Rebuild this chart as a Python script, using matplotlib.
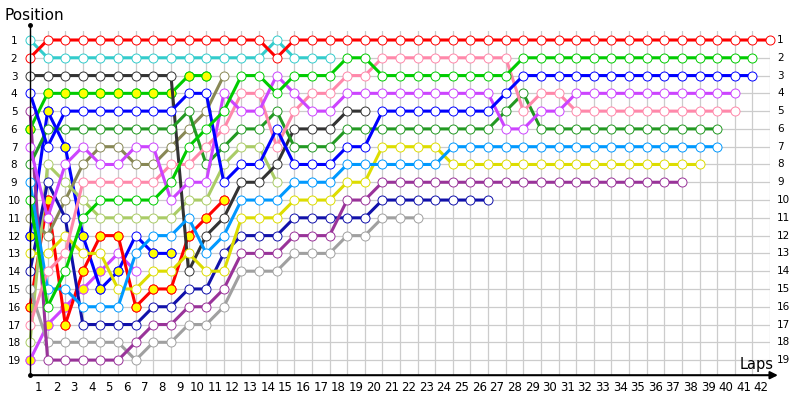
import numpy as np
import matplotlib.pyplot as plt

# positions per lap, index = lap number (0 = grid)
red_lead = [2] + [1]*13 + [2] + [1]*28
cyan = [1] + [2]*13 + [1] + [2, 2, 2]
black = [3]*9 + [14, 12, 11, 9, 9, 8, 6, 6, 6, 5, 5]
blue = [4, 7, 5, 5, 5, 5, 5, 5, 5, 4, 4, 9, 8, 8, 6, 8, 8, 8, 7, 7] + [5]*7 + [4] + [3]*14
dark_purple = [5] + [19]*5 + [18, 17, 17, 16, 16, 15, 13, 13, 13, 12, 12, 12, 10, 10] + [9]*18
green_y = [6] + [4]*8 + [3, 3]
magenta = [7, 11, 8, 7, 8, 8, 7, 7, 10, 9, 9, 4, 5, 5, 3, 4, 5, 5] + [4]*9 + [6, 6, 5, 5] + [4]*10
dark_green = [8] + [6]*8 + [5, 8, 7, 6, 6, 5, 7, 7, 7] + [6]*9 + [5, 4] + [6]*11
light_blue = [9, 15, 15, 16, 16, 16, 13, 12, 12, 11, 13, 12, 10, 10, 10, 9, 9, 9] + [8]*6 + [7]*16
green = [10, 16, 14, 11, 10, 10, 10, 10, 9, 7, 6, 5, 3, 3, 4, 3, 3, 3, 2, 2] + [3]*8 + [2]*14
olive = [11, 12, 10, 8, 7, 7, 8, 8, 7, 6, 5, 3]
blue_y = [12, 5, 7, 12, 15, 14, 12, 13, 13]
yellow = [13, 13, 12, 13, 13, 15, 15, 14, 14, 13, 14, 14, 11, 11, 11, 10, 10, 10, 9, 9] + [7]*4 + [8]*15
navy = [14, 9, 11, 17, 17, 17, 17, 16, 16, 15, 15, 13, 12, 12, 12] + [11]*5 + [10]*7
gray = [15] + [18]*5 + [19, 18, 18, 17, 17, 16, 14, 14, 14, 13, 13, 13, 12, 12] + [11]*3
red_y = [16, 10, 17, 14, 12, 12, 16, 15, 15, 12, 11, 10]
pink = [17, 14, 13, 9, 9, 9, 9, 9, 8, 8, 7, 6, 4, 4, 7, 5, 4, 4, 3, 3] + [2]*8 + [5, 4, 4] + [5]*10
light_green = [18, 8, 9, 10, 11, 11, 11, 11, 11, 10, 10, 8, 7, 7, 9]
magenta_y = [19, 17, 16, 15, 14, 13, 14]

# laps drawn with a yellow filled marker
green_y_fill = list(range(11))
red_y_fill = list(range(12))
blue_y_fill = [0, 1, 2, 3, 4, 5, 7, 8]
magenta_y_fill = [0, 1, 2, 3, 4]

drivers = [
    (magenta_y, '#cc44ff', magenta_y_fill),
    (blue_y, '#0000ff', blue_y_fill),
    (red_y, '#ff0000', red_y_fill),
    (green_y, '#00cc00', green_y_fill),
    (olive, '#888855', []),
    (light_green, '#aacc66', []),
    (cyan, '#33cccc', []),
    (black, '#333333', []),
    (gray, '#a0a0a0', []),
    (navy, '#1111aa', []),
    (dark_purple, '#993399', []),
    (yellow, '#dddd00', []),
    (light_blue, '#0099ff', []),
    (dark_green, '#229922', []),
    (pink, '#ff88aa', []),
    (magenta, '#cc44ff', []),
    (blue, '#0000ff', []),
    (green, '#00cc00', []),
    (red_lead, '#ff0000', []),
]

fig = plt.figure(figsize=(8, 4), dpi=100)
ax = fig.add_axes([30/800, (400-375.2)/400, 740/800, (375.2-31.1)/400])
ax.set_xlim(0, 42)
ax.set_ylim(19.85, 0.5)
for s in ax.spines.values():
    s.set_visible(False)

ax.set_xticks(np.arange(1, 43) - 0.5)
ax.set_xticklabels([str(i) for i in range(1, 43)], fontsize=8.5)
ax.set_xticks(np.arange(0, 43), minor=True)
ax.set_yticks(range(1, 20))
ax.set_yticklabels([str(i) for i in range(1, 20)], fontsize=7.5)
for lb in ax.get_yticklabels():
    lb.set_ha('center')
ax.tick_params(axis='x', which='both', length=0, pad=4)
ax.tick_params(axis='y', length=0, pad=11.5)
ax.grid(True, axis='x', which='minor', color='#cccccc', lw=0.9)
ax.grid(True, axis='y', which='major', color='#cccccc', lw=0.9)

for p in range(1, 20):
    ax.annotate(str(p), xy=(1, p), xycoords=('axes fraction', 'data'),
                xytext=(5, 0), textcoords='offset points',
                ha='left', va='center', fontsize=7.5)

for i, (pos, col, fill) in enumerate(drivers):
    laps = np.arange(len(pos))
    pos = np.array(pos)
    ax.plot(laps, pos, color=col, lw=2.2, marker='o', ms=6.5, mfc='white',
            mec=col, mew=0.7, zorder=3+i, clip_on=False)
    if fill:
        ax.plot(laps[fill], pos[fill], ls='none', marker='o', ms=6.5,
                mfc='#ffff00', mec=col, mew=0.7, zorder=3+i, clip_on=False)

# axes lines
ax.plot([0, 0], [19.85, 0.16], color='black', lw=1, clip_on=False, zorder=30)
ax.plot([0, 0], [0.16, 19.85], 'o', ms=2.5, color='black', clip_on=False, zorder=30)
ax.annotate('', xy=(42.45, 19.85), xytext=(0, 19.85),
            arrowprops=dict(arrowstyle='-|>', color='black', lw=1.5,
                            mutation_scale=11, shrinkA=0, shrinkB=0),
            annotation_clip=False, zorder=30)

fig.text(5/800, 1-15/400, 'Position', fontsize=11, va='center', ha='left')
fig.text(740/800, 1-369/400, 'Laps', fontsize=10.5, va='baseline', ha='left')

fig.savefig('out.png', dpi=100)
